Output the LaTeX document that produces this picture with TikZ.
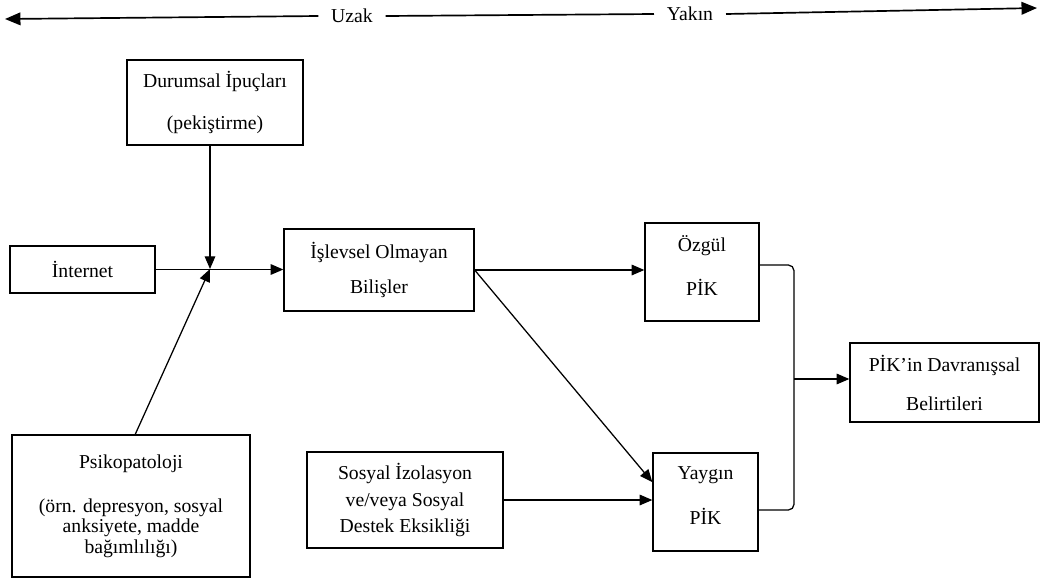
\documentclass[tikz,border=0pt]{standalone}
\usepackage{fontspec}
\setmainfont{Liberation Serif}
\usetikzlibrary{arrows.meta,calc}
\tikzset{
  box/.style={draw, line width=0.9pt, align=center, inner sep=0pt},
  arr/.style={line width=0.9pt, -{Triangle[length=9pt,width=7.5pt]}},
  bigarr/.style={line width=1.2pt, -{Triangle[length=11pt,width=9pt]}},
  ln/.style={line width=0.9pt},
  tag/.style={inner xsep=9pt}
}
\begin{document}
\begin{tikzpicture}[x=0.025cm, y=-0.025cm, font=\fontsize{14}{14.5}\selectfont]
        \useasboundingbox (0,0) rectangle (1041,581);
        \node[tag] (uzak) at (352,16) {Uzak};
        \node[tag] (yakin) at (690,14) {Yakın};
        \coordinate (lend) at (5,19);
        \coordinate (rend) at (1037,8);
        \node[box, minimum width=4.4cm, minimum height=2.125cm] (dur) at (215,102.5) {Durumsal İpuçları\\[15.3pt](pekiştirme)};
        \node[box, minimum width=3.625cm, minimum height=1.175cm] (inet) at (82.5,269.5) {İnternet};
        \node[box, minimum width=4.75cm, minimum height=2.05cm] (isl) at (379,270) {İşlevsel Olmayan\\[11pt]Bilişler};
        \node[box, minimum width=2.85cm, minimum height=2.45cm, text depth=9pt] (ozg) at (702,272) {Özgül\\[15.3pt]PİK};
        \node[box, minimum width=2.625cm, minimum height=2.45cm, text depth=9pt] (yay) at (705.5,502) {Yaygın\\[16.8pt]PİK};
        \node[box, minimum width=4.725cm, minimum height=1.975cm] (pik) at (944.5,382.5) {PİK’in Davranışsal\\[13.2pt]Belirtileri};
        \node[box, minimum width=5.95cm, minimum height=3.55cm] (psi) at (131,506) {Psikopatoloji\\[16.8pt](örn. depresyon, sosyal\\anksiyete, madde\\bağımlılığı)};
        \node[box, minimum width=4.9cm, minimum height=2.4cm] (sos) at (405,500) {Sosyal İzolasyon\\[4pt]ve/veya Sosyal\\[4pt]Destek Eksikliği};
        \coordinate (j) at (210,269);
        \coordinate (bt) at (794,265);
        \coordinate (bm) at (794,379);
        \coordinate (bb) at (794,510);
        \draw[bigarr] (uzak.west) -- (lend);
        \draw[ln, line width=1.2pt] (uzak.east) -- (yakin.west);
        \draw[bigarr] (yakin.east) -- (rend);
        \draw[arr] (dur.south -| j) -- (j);
        \draw[arr] ([xshift=3pt]psi.north) -- (j);
        \draw[arr] (inet.east) -- (inet.east -| isl.west);
        \draw[arr] (isl.east) -- (isl.east -| ozg.west);
        \draw[arr] (isl.east) -- ($(yay.north west)!0.3!(yay.south west)$);
        \draw[arr] (sos.east) -- (sos.east -| yay.west);
        \draw[ln, rounded corners=4pt] (ozg.east |- bt) -- (bt) -- (bb) -- (yay.east |- bb);
        \draw[arr] (bm) -- (bm -| pik.west);
\end{tikzpicture}
\end{document}
